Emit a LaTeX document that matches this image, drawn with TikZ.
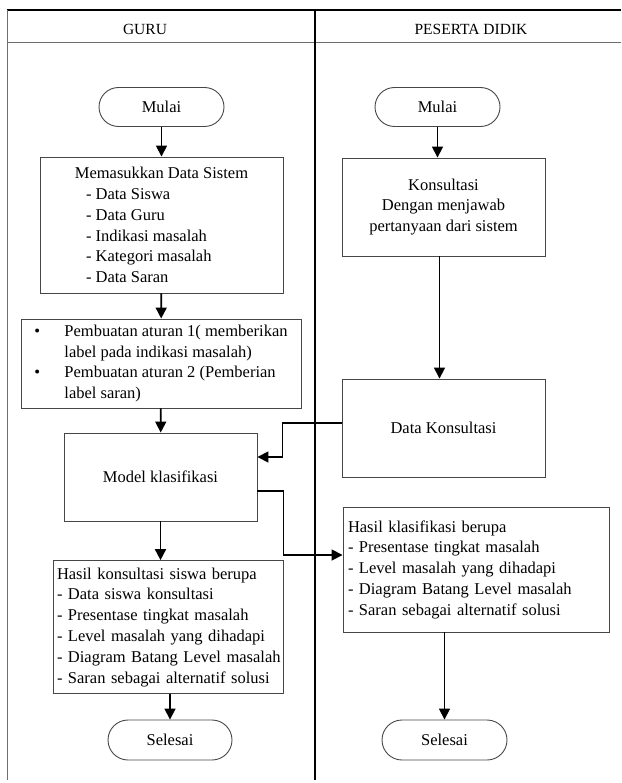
\documentclass[tikz,border=0pt]{standalone}
\usepackage{fontspec}
\setmainfont{Liberation Serif}
\usetikzlibrary{arrows.meta,positioning,calc}
\definecolor{BoxGray}{RGB}{70,70,70}
\definecolor{LaneGray}{RGB}{110,110,110}
\newcommand{\flowfont}{\fontsize{16.5}{20.8}\selectfont}

\begin{document}
\begin{tikzpicture}[x=1pt, y=-1pt,
    flow/.style={draw=BoxGray, line width=0.9pt, font=\flowfont, inner sep=4pt},
    proses/.style={flow, rectangle},
    terminal/.style={flow, rounded corners=19.5pt, minimum width=125pt, minimum height=39pt},
    lanehead/.style={font=\fontsize{15.5}{18}\selectfont},
    panah/.style={-{Triangle[length=11pt,width=11pt]}, line width=1.7pt}]
  \useasboundingbox (0,0) rectangle (621,783);
  % swimlanes
  \draw[line width=1.4pt] (7,10) -- (621,10);
  \draw[line width=1pt, LaneGray] (7,43) -- (621,43);
  \draw[line width=1pt, LaneGray] (7,10) -- (7,780);
  \draw[line width=1.8pt] (315,10) -- (315,780);
  \node[lanehead] (guru) at (145,29) {GURU};
  \node[lanehead] (peserta) at (471,29) {PESERTA DIDIK};

  % lajur guru
  \node[terminal] (mulaiG) at (161.5,107) {Mulai};
  \node[proses, minimum width=243pt, minimum height=136pt, align=left] (sistem) at (161.5,225)
    {\makebox[175pt]{Memasukkan Data Sistem}\\
     \hspace*{12pt}- Data Siswa\\
     \hspace*{12pt}- Data Guru\\
     \hspace*{12pt}- Indikasi masalah\\
     \hspace*{12pt}- Kategori masalah\\
     \hspace*{12pt}- Data Saran};
  \node[proses, minimum width=280pt, minimum height=89pt, align=left] (aturan) at (161,363.5)
    {\makebox[30pt][l]{\textbullet}Pembuatan aturan 1( memberikan\\
     \hspace*{30pt}label pada indikasi masalah)\\
     \makebox[30pt][l]{\textbullet}Pembuatan aturan 2 (Pemberian\\
     \hspace*{30pt}label saran)};
  \node[proses, minimum width=193pt, minimum height=88pt] (model) at (160.5,477) {Model klasifikasi};
  \node[proses, minimum height=128pt, text width=222pt, align=left] (hasilG) at (168,627)
    {\begin{tabular}{@{}l@{}}
     Hasil konsultasi siswa berupa\\
     - Data siswa konsultasi\\
     - Presentase tingkat masalah\\
     - Level masalah yang dihadapi\\
     - Diagram Batang Level masalah\\
     - Saran sebagai alternatif solusi
     \end{tabular}};
  \node[terminal, minimum width=124pt, minimum height=40pt, rounded corners=20pt] (selesaiG) at (170,740) {Selesai};

  % lajur peserta didik
  \node[terminal] (mulaiP) at (437.5,107) {Mulai};
  \node[proses, minimum width=203pt, minimum height=98pt, align=center] (konsultasi) at (443.5,207)
    {Konsultasi\\ Dengan menjawab\\ pertanyaan dari sistem};
  \node[proses, minimum width=203pt, minimum height=98pt] (dataKons) at (443.5,428) {Data Konsultasi};
  \node[proses, minimum height=125pt, text width=256pt, inner xsep=5pt, align=left] (hasilP) at (476,569.5)
    {\raisebox{8pt}{\begin{tabular}{@{}l@{}}
     Hasil klasifikasi berupa\\
     - Presentase tingkat masalah\\
     - Level masalah yang dihadapi\\
     - Diagram Batang Level masalah\\
     - Saran sebagai alternatif solusi
     \end{tabular}}};
  \node[terminal, minimum width=125pt, minimum height=40pt, rounded corners=20pt] (selesaiP) at (444.5,740) {Selesai};

  % alur
  \draw[panah] (mulaiG) -- (sistem);
  \draw[panah] (sistem) -- (aturan);
  \draw[panah] (aturan) -- (model);
  \draw[panah] (model.south) -- (model.south |- hasilG.north);
  \draw[panah] (hasilG.south -| selesaiG.north) -- (selesaiG.north);
  \draw[panah] (mulaiP.south) -- (mulaiP.south |- konsultasi.north);
  \draw[panah] ([xshift=-4pt]konsultasi.south) -- ([xshift=-4pt]dataKons.north);
  \draw[panah] ([yshift=5pt]dataKons.west) -- ++(-59,0) |- ([yshift=20pt]model.east);
  \draw[panah] ([yshift=-14pt]model.east) -- ++(26,0) |- ([yshift=14.5pt]hasilP.west);
  \draw[panah] (hasilP.south -| selesaiP.north) -- (selesaiP.north);
\end{tikzpicture}
\end{document}
